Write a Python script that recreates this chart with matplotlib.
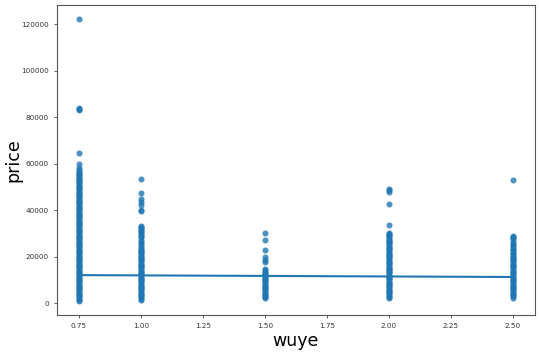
import matplotlib
matplotlib.use("Agg")
import matplotlib.pyplot as plt

# wuye categories and prices
wuye_levels = [0.75, 1.00, 1.50, 2.00, 2.50]

price_075 = [122000, 84100, 83600, 83100, 64600, 59700, 58300, 57200,
             56500, 56000, 55500, 55000, 54500, 54000, 53500, 53000, 52500,
             52000, 51500, 51000, 50500, 50000, 49500, 49000, 48500, 48000,
             47500, 47000, 46500, 46000, 45500, 45000, 44500, 44000, 43500,
             43000, 42500, 42000, 41500, 41000, 40500, 40000, 39500, 39000,
             38500, 38000, 37500, 37000, 36500, 36000, 35500, 35000, 34500,
             34000, 33500, 33000, 32500, 32000, 31500, 31000, 30500, 30000,
             29500, 29000, 28500, 28000, 27500, 27000, 26500, 26000, 25500,
             25000, 24500, 24000, 23500, 23000, 22500, 22000, 21500, 21000,
             20500, 20000, 19500, 19000, 18500, 18000, 17500, 17000, 16500,
             16000, 15500, 15000, 14500, 14000, 13500, 13000, 12500, 12000,
             11500, 11000, 10500, 10000, 9500, 9000, 8500, 8000, 7500, 7000,
             6500, 6000, 5500, 5000, 4500, 4000, 3500, 3000, 2500, 2000,
             1500, 1000]
price_100 = [53600, 47400, 44800, 43600, 42200, 40000, 39500, 33100, 32600,
             32200, 31700, 31300, 30800, 30400, 29500, 28800, 28300, 27000,
             26500, 26000, 25000, 24000, 23500, 23000, 22500, 22000, 21500,
             21000, 20500, 20000, 19500, 19000, 18500, 18000, 17500, 17000,
             16500, 16000, 15500, 15000, 14500, 14000, 13500, 13000, 12500,
             12000, 11500, 11000, 10500, 10000, 9500, 9000, 8500, 8000, 7500,
             7000, 6500, 6000, 5500, 5000, 4500, 4000, 3500, 3000, 2500,
             2000, 1400]
price_150 = [30000, 27300, 23000, 19800, 18500, 17600, 14600, 14100, 13600,
             13000, 12500, 12000, 11500, 11000, 10500, 10000, 9500, 9000,
             8500, 8000, 7500, 7000, 6500, 6000, 5500, 5000, 4500, 4000,
             3500, 3000, 2500, 2100]
price_200 = [49100, 48600, 47900, 42700, 33700, 30300, 29800, 29300, 28800,
             28300, 27800, 27300, 26800, 26300, 25800, 25300, 24800, 24300,
             23800, 23300, 22800, 22300, 21800, 21300, 20800, 20300, 19800,
             19300, 18800, 18300, 17800, 17300, 16800, 16300, 15800, 15300,
             14800, 14300, 13800, 13300, 12800, 12300, 11800, 11300, 10800,
             10300, 9800, 9300, 8800, 8300, 7800, 7300, 6800, 6300, 5800,
             5300, 4800, 4300, 3800, 3300, 2800, 2400]
price_250 = [53000, 29000, 28500, 28000, 27500, 26500, 25600, 25000, 24200,
             23500, 22800, 22200, 21600, 21000, 20500, 20000, 19500, 19000,
             18500, 18000, 17500, 17000, 16500, 16000, 15500, 15000, 14500,
             14000, 13500, 13000, 12500, 12000, 11500, 11000, 10500, 10000,
             9500, 9000, 8500, 8000, 7500, 7000, 6500, 6000, 5500, 5000,
             4500, 4000, 3500, 3000, 2300]

# fitted regression line (values at the ends of the wuye range)
fit_x = [0.75, 2.50]
fit_y = [12100, 11300]

columns = [price_075, price_100, price_150, price_200, price_250]
xs, ys = [], []
for w, prices in zip(wuye_levels, columns):
    xs += [w] * len(prices)
    ys += prices

fig = plt.figure(figsize=(5.39, 3.52), dpi=100)
ax = fig.add_axes([0.106, 0.105, 0.886, 0.88])

ax.scatter(xs, ys, s=19, color="#1f77b4", alpha=0.8, linewidths=0)
ax.plot(fit_x, fit_y, color="#1f77b4", lw=1.5)

ax.set_xticks([0.75, 1.00, 1.25, 1.50, 1.75, 2.00, 2.25, 2.50])
ax.set_yticks([0, 20000, 40000, 60000, 80000, 100000, 120000])
ax.tick_params(labelsize=5.2, length=2.5, width=0.6, colors="#444444",
               labelcolor="#333333")
for sp in ax.spines.values():
    sp.set_color("#555555")
    sp.set_linewidth(0.8)

ax.set_xlabel("wuye", fontsize=12.5, labelpad=2)
ax.set_ylabel("price", fontsize=12.5)
ax.yaxis.set_label_coords(-0.072, 0.5)

fig.savefig("out.png", dpi=100)
